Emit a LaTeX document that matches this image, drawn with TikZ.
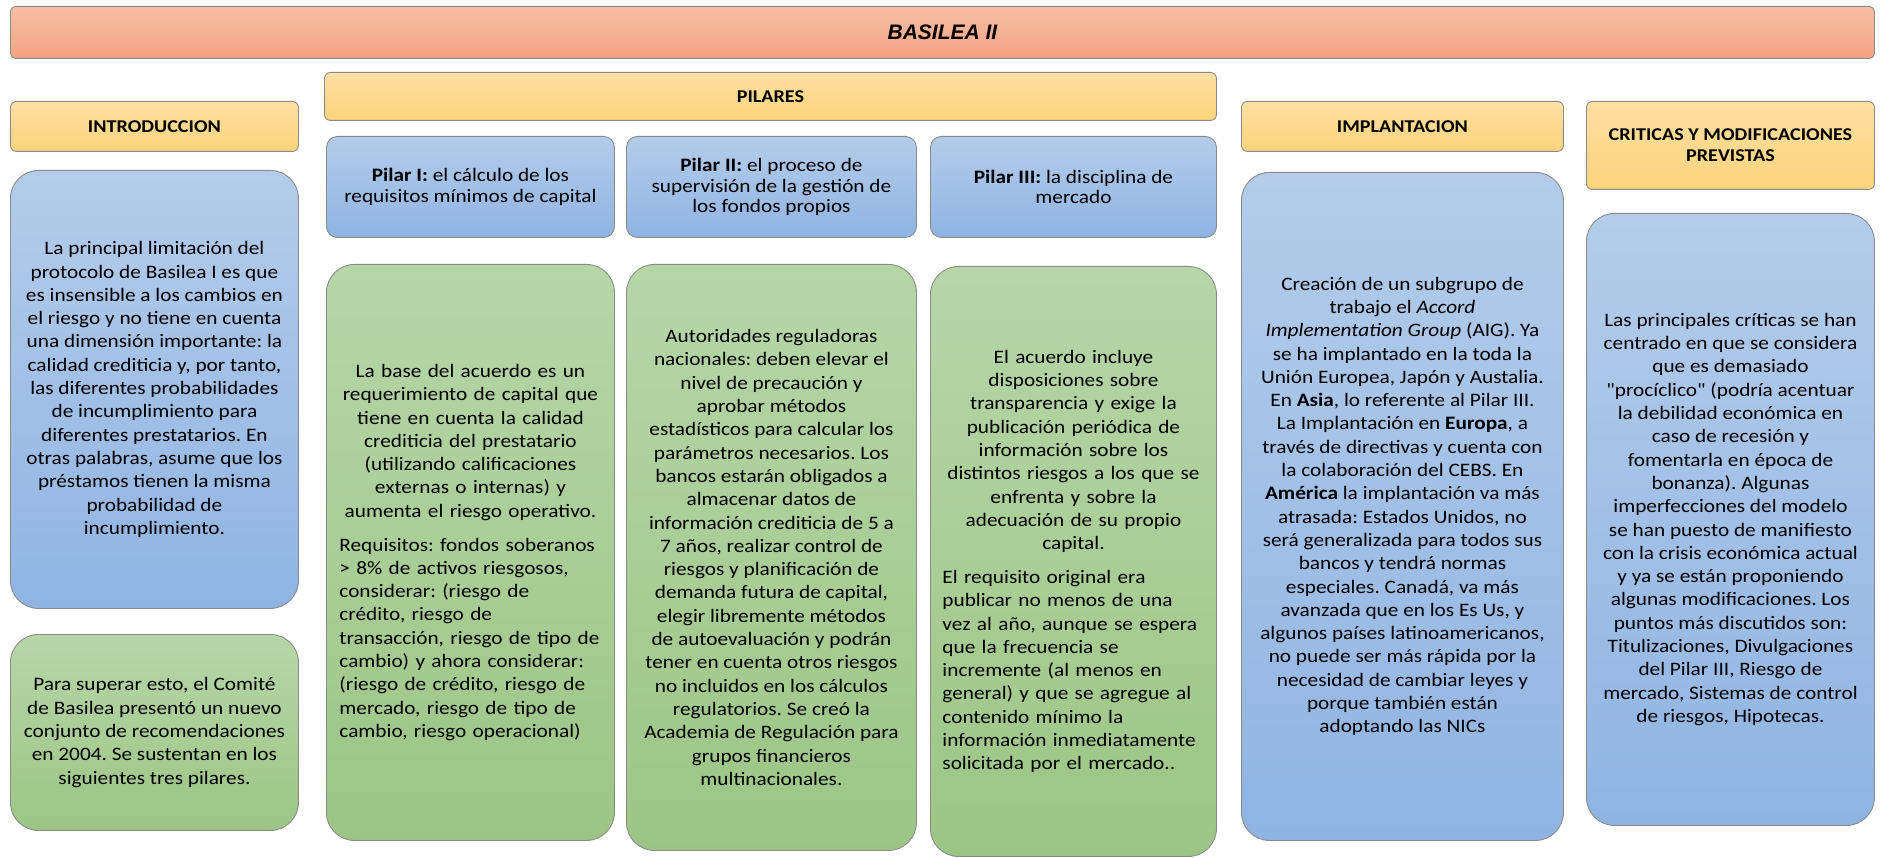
\documentclass[tikz,border=0pt]{standalone}
\usepackage{fontspec}
\setmainfont{Carlito}[FakeStretch=1.12, Ligatures=TeXOff]
\newfontfamily\titlefont{Liberation Sans}
\frenchspacing
\definecolor{bordercol}{RGB}{138,138,138}
\definecolor{titletop}{RGB}{246,190,164}
\definecolor{titlebot}{RGB}{244,163,130}
\definecolor{hdrtop}{RGB}{254,223,163}
\definecolor{hdrbot}{RGB}{253,212,124}
\definecolor{bluetop}{RGB}{180,204,234}
\definecolor{bluebot}{RGB}{143,180,226}
\definecolor{greentop}{RGB}{182,214,168}
\definecolor{greenbot}{RGB}{156,197,133}
\begin{document}
\begin{tikzpicture}[x=1pt,y=-1pt,
  base/.style={draw=bordercol, line width=0.9pt, inner sep=0pt, anchor=north west, align=center,
    font=\frenchspacing\fontsize{19}{23.3}\selectfont},
  titlebox/.style={base, rounded corners=5pt, top color=titletop, bottom color=titlebot,
    font=\titlefont\bfseries\itshape\fontsize{21}{25}\selectfont},
  hdr/.style={base, rounded corners=6pt, top color=hdrtop, bottom color=hdrbot,
    font=\bfseries\fontsize{18}{21}\selectfont},
  bluebox/.style={base, top color=bluetop, bottom color=bluebot},
  greenbox/.style={base, top color=greentop, bottom color=greenbot},
  bigr/.style={rounded corners=28pt},
  smallr/.style={rounded corners=11pt, font=\frenchspacing\fontsize{19}{20.5}\selectfont},
  mixed/.style={align=left, text width=#1},
]
\useasboundingbox (0,0) rectangle (1882,858);

% title
\node[titlebox, minimum width=1864pt, minimum height=52pt] (title) at (10,6) {BASILEA II};

% headers
\node[hdr, minimum width=288pt, minimum height=50pt] (introH) at (10,101) {INTRODUCCION};
\node[hdr, minimum width=892pt, minimum height=48pt] (pilH) at (324,72) {PILARES};
\node[hdr, minimum width=322pt, minimum height=50pt] (impH) at (1241,101) {IMPLANTACION};
\node[hdr, minimum width=288pt, minimum height=88pt] (critH) at (1586,101) {CRITICAS Y MODIFICACIONES\\PREVISTAS};

% introduction
\node[bluebox, bigr, minimum width=288pt, minimum height=438pt] (introB) at (10,170) {%
La principal limitación del\\
protocolo de Basilea I es que\\
es insensible a los cambios en\\
el riesgo y no tiene en cuenta\\
una dimensión importante: la\\
calidad crediticia y, por tanto,\\
las diferentes probabilidades\\
de incumplimiento para\\
diferentes prestatarios. En\\
otras palabras, asume que los\\
préstamos tienen la misma\\
probabilidad de\\
incumplimiento.};

\node[greenbox, bigr, minimum width=288pt, minimum height=196pt] (introG) at (10,634) {%
Para superar esto, el Comité\\
de Basilea presentó un nuevo\\
conjunto de recomendaciones\\
en 2004. Se sustentan en los\\
siguientes tres pilares.};

% pillars (blue)
\node[bluebox, smallr, minimum width=288pt, minimum height=101pt] (p1b) at (326,136) {%
\textbf{Pilar I:} el cálculo de los\\ requisitos mínimos de capital};
\node[bluebox, smallr, minimum width=290pt, minimum height=101pt] (p2b) at (626,136) {%
\textbf{Pilar II:} el proceso de\\ supervisión de la gestión de\\ los fondos propios};
\node[bluebox, smallr, minimum width=286pt, minimum height=101pt] (p3b) at (930,136) {%
\textbf{Pilar III:} la disciplina de\\ mercado};

% pillars (green)
\node[greenbox, bigr, mixed=262pt, minimum width=288pt, minimum height=576pt] (p1g) at (326,264) {%
{\centering
La base del acuerdo es un\\
requerimiento de capital que\\
tiene en cuenta la calidad\\
crediticia del prestatario\\
(utilizando calificaciones\\
externas o internas) y\\
aumenta el riesgo operativo.\par}
\vspace{10.5pt}
{\raggedright
Requisitos: fondos soberanos\\
> 8\% de activos riesgosos,\\
considerar: (riesgo de\\
crédito, riesgo de\\
transacción, riesgo de tipo de\\
cambio) y ahora considerar:\\
(riesgo de crédito, riesgo de\\
mercado, riesgo de tipo de\\
cambio, riesgo operacional)\par}};

\node[greenbox, bigr, minimum width=290pt, minimum height=586pt] (p2g) at (626,264) {%
Autoridades reguladoras\\
nacionales: deben elevar el\\
nivel de precaución y\\
aprobar métodos\\
estadísticos para calcular los\\
parámetros necesarios. Los\\
bancos estarán obligados a\\
almacenar datos de\\
información crediticia de 5 a\\
7 años, realizar control de\\
riesgos y planificación de\\
demanda futura de capital,\\
elegir libremente métodos\\
de autoevaluación y podrán\\
tener en cuenta otros riesgos\\
no incluidos en los cálculos\\
regulatorios. Se creó la\\
Academia de Regulación para\\
grupos financieros\\
multinacionales.};

\node[greenbox, bigr, mixed=262pt, minimum width=286pt, minimum height=590pt] (p3g) at (930,266) {%
{\centering
El acuerdo incluye\\
disposiciones sobre\\
transparencia y exige la\\
publicación periódica de\\
información sobre los\\
distintos riesgos a los que se\\
enfrenta y sobre la\\
adecuación de su propio\\
capital.\par}
\vspace{10.5pt}
{\raggedright
El requisito original era\\
publicar no menos de una\\
vez al año, aunque se espera\\
que la frecuencia se\\
incremente (al menos en\\
general) y que se agregue al\\
contenido mínimo la\\
información inmediatamente\\
solicitada por el mercado..\par}};

% implantation
\node[bluebox, bigr, minimum width=322pt, minimum height=668pt] (impB) at (1241,172) {%
Creación de un subgrupo de\\
trabajo el \textit{Accord}\\
\textit{Implementation Group} (AIG). Ya\\
se ha implantado en la toda la\\
Unión Europea, Japón y Austalia.\\
En \textbf{Asia}, lo referente al Pilar III.\\
La Implantación en \textbf{Europa}, a\\
través de directivas y cuenta con\\
la colaboración del CEBS. En\\
\textbf{América} la implantación va más\\
atrasada: Estados Unidos, no\\
será generalizada para todos sus\\
bancos y tendrá normas\\
especiales. Canadá, va más\\
avanzada que en los Es Us, y\\
algunos países latinoamericanos,\\
no puede ser más rápida por la\\
necesidad de cambiar leyes y\\
porque también están\\
adoptando las NICs};

% criticism
\node[bluebox, bigr, minimum width=288pt, minimum height=612pt] (critB) at (1586,213) {%
Las principales críticas se han\\
centrado en que se considera\\
que es demasiado\\
"procíclico" (podría acentuar\\
la debilidad económica en\\
caso de recesión y\\
fomentarla en época de\\
bonanza). Algunas\\
imperfecciones del modelo\\
se han puesto de manifiesto\\
con la crisis económica actual\\
y ya se están proponiendo\\
algunas modificaciones. Los\\
puntos más discutidos son:\\
Titulizaciones, Divulgaciones\\
del Pilar III, Riesgo de\\
mercado, Sistemas de control\\
de riesgos, Hipotecas.};
\end{tikzpicture}
\end{document}
